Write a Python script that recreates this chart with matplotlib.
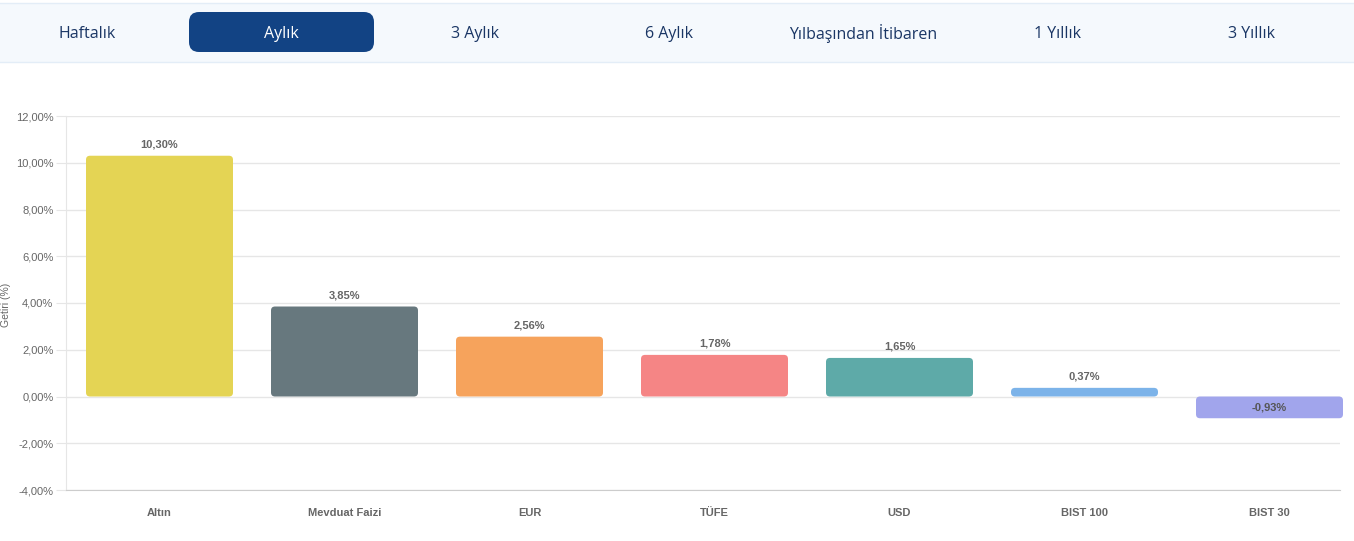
import matplotlib
matplotlib.use("Agg")
import matplotlib.pyplot as plt
from matplotlib.patches import FancyBboxPatch, Rectangle
from matplotlib.ticker import FuncFormatter

categories = ["Altın", "Mevduat Faizi", "EUR", "TÜFE", "USD", "BIST 100", "BIST 30"]
values = [10.30, 3.85, 2.56, 1.78, 1.65, 0.37, -0.93]
colors = ["#e4d454", "#67787e", "#f6a35c", "#f58585", "#5eaaa8", "#7cb3e9", "#a1a5ec"]
tabs = ["Haftalık", "Aylık", "3 Aylık", "6 Aylık", "Yılbaşından İtibaren", "1 Yıllık", "3 Yıllık"]
active_tab = 1
y_ticks = [-4, -2, 0, 2, 4, 6, 8, 10, 12]

plt.rcParams['font.family'] = ['Liberation Sans', 'DejaVu Sans']

W, H = 1354, 541
fig = plt.figure(figsize=(W / 100, H / 100), dpi=100)

# --- tab bar ---
tab_ax = fig.add_axes([0, 0, 1, 1])
tab_ax.set_xlim(0, W)
tab_ax.set_ylim(H, 0)
tab_ax.axis("off")
tab_ax.add_patch(Rectangle((0, 3), W, 59, facecolor="#f5f9fd", edgecolor="none"))
tab_ax.plot([0, W], [3, 3], color="#e3edf7", lw=1)
tab_ax.plot([0, W], [62, 62], color="#e3edf7", lw=1)
for i, t in enumerate(tabs):
    cx = 87 + i * 194
    if i == active_tab:
        tab_ax.add_patch(FancyBboxPatch((cx - 92 + 10, 12 + 10), 185 - 20, 40 - 20,
                                        boxstyle="round,pad=10",
                                        facecolor="#124384", edgecolor="none"))
        tab_ax.text(cx, 33.5, t, ha="center", va="center", fontsize=11.5,
                    color="white", family=["Open Sans", "DejaVu Sans"])
    else:
        tab_ax.text(cx, 33.5, t, ha="center", va="center", fontsize=11.5,
                    color="#1a3665", family=["Open Sans", "DejaVu Sans"])

# --- chart ---
left, right, top, bottom = 66, 1340, 116, 490
step = 185.0
first_center = 159.5
ax = fig.add_axes([left / W, 1 - bottom / H, (right - left) / W, (bottom - top) / H])
ax.set_ylim(-4, 12)
ax.set_yticks(y_ticks)
ax.yaxis.set_major_formatter(FuncFormatter(lambda v, p: f"{v:.2f}%".replace(".", ",")))
ax.grid(axis="y", color="#e6e6e6", lw=1)
ax.set_axisbelow(True)
for s in ["top", "right"]:
    ax.spines[s].set_visible(False)
ax.spines["left"].set_color("#e6e6e6")
ax.spines["bottom"].set_color("#cccccc")
ax.tick_params(axis="y", length=7, color="#e6e6e6", labelsize=8, labelcolor="#666666", pad=2)
ax.tick_params(axis="x", length=0, labelsize=8, labelcolor="#666666", pad=13)
ax.set_xticks(range(len(categories)))
ax.set_xticklabels(categories, fontweight="bold")

px_x = 1 / step
px_y = 16 / (bottom - top)
bars = ax.bar(range(len(categories)), values, width=147 / step, color=colors)
ax.set_xlim((left - first_center) / step, (right - first_center) / step)
r = 4 * px_x
aspect = px_y / px_x
for b, c in zip(bars, colors):
    x0, y0 = b.get_x(), b.get_y()
    w, h = b.get_width(), b.get_height()
    if h < 0:
        y0, h = y0 + h, -h
    b.set_visible(False)
    p = FancyBboxPatch((x0, y0), w, h,
                       boxstyle=f"round,pad=0,rounding_size={r}",
                       mutation_aspect=aspect, facecolor=c,
                       edgecolor="none")
    p.set_clip_on(False)
    ax.add_patch(p)

for i, v in enumerate(values):
    lab = f"{v:.2f}%".replace(".", ",")
    if v >= 0:
        ax.annotate(lab, (i, v), xytext=(0, 4.5), textcoords="offset points",
                    ha="center", va="bottom", fontsize=8, color="#666666",
                    fontweight="bold", annotation_clip=False)
    else:
        ax.annotate(lab, (i, v / 2), ha="center", va="center", fontsize=8,
                    color="#555555", fontweight="bold", annotation_clip=False)

fig.text(6 / W, 1 - 305 / H, "Getiri (%)", rotation=90, ha="center", va="center",
         fontsize=7.5, color="#666666")

fig.savefig("out.png", dpi=100, facecolor="white")
